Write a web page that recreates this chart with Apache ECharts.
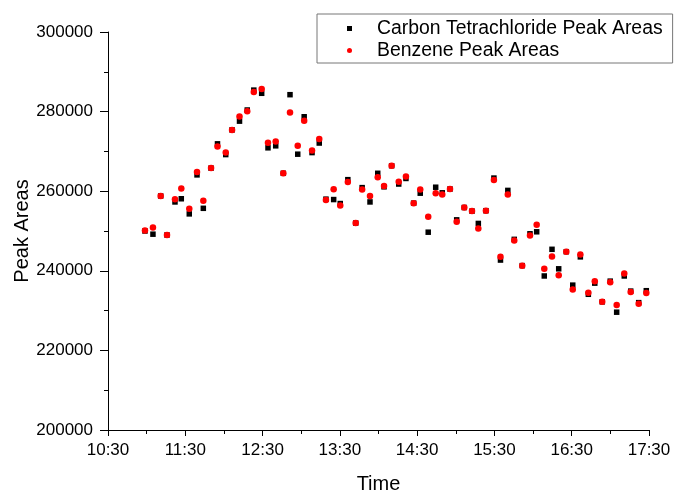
<!DOCTYPE html>
<html>
<head>
<meta charset="utf-8">
<script src="https://cdn.jsdelivr.net/npm/echarts@6/dist/echarts.min.js"></script>
<style>
html,body{margin:0;padding:0;background:#fff;}
#chart{width:674px;height:494px;}
</style>
</head>
<body>
<div id="chart"></div>
<script>
// Time of each sample, minutes after midnight
var timeMin = [658.7,664.9,670.9,675.8,682.0,686.9,693.1,699.1,704.0,710.0,
  715.0,721.4,726.3,732.1,738.1,743.2,749.3,754.2,760.2,766.1,
  771.3,777.3,782.3,788.4,794.0,799.2,805.2,810.3,816.2,822.3,
  827.3,833.4,839.4,844.3,850.2,855.7,861.3,867.3,872.4,878.6,
  884.4,889.5,895.5,900.7,906.6,912.6,917.5,923.4,929.6,934.7,
  940.4,945.4,951.6,957.6,962.8,968.7,974.7,979.9,985.8,990.8,
  996.7,1002.9,1007.9,1013.7,1019.9,1024.9,1030.8,1035.8,1042.0,1047.9];

var carbonTet = [250000,249200,258800,249000,257300,258100,254300,264100,255700,265800,
  271900,269200,275400,277600,280400,285400,284600,270900,271400,264500,
  284250,269300,278700,269700,272100,258000,257900,256900,262900,252000,
  260900,257300,264500,261100,266400,261800,263200,257000,259500,249700,
  261000,259600,260550,252800,255900,255000,251900,255100,263300,242700,
  260200,247900,241300,249300,249800,238700,245400,240500,244800,236400,
  243500,234100,236900,232200,237400,229600,238700,234900,232000,235000];

var benzene = [250100,250900,258800,249000,258000,260700,255600,264800,257600,265800,
  271200,269700,275400,278800,280100,284900,285700,272200,272500,264500,
  279800,271400,277700,270200,273100,257800,260500,256400,262300,252000,
  260400,258800,263500,261300,266400,262400,263700,257000,260400,253600,
  259500,259200,260550,252300,255900,255000,250600,255100,262800,243500,
  259200,247600,241300,248900,251600,240500,243600,238900,244800,235300,
  244100,234500,237400,232200,237100,231400,239300,234700,231700,234400];

var seriesNames = ['Carbon Tetrachloride Peak Areas', 'Benzene Peak Areas'];
var xAxisTitle = 'Time';
var yAxisTitle = 'Peak Areas';

function pairs(xs, ys) {
  return xs.map(function (x, i) { return [x, ys[i]]; });
}
function fmtTime(v) {
  var h = Math.floor(v / 60), m = Math.round(v - h * 60);
  return h + ':' + (m < 10 ? '0' : '') + m;
}

var chart = echarts.init(document.getElementById('chart'), null, {renderer: 'canvas'});
var font = 'Liberation Sans, Arial, sans-serif';
chart.setOption({
  backgroundColor: '#fff',
  animation: false,
  grid: {left: 108, right: 25, top: 32, bottom: 64, containLabel: false, outerBoundsMode: 'none'},
  legend: {
    orient: 'vertical',
    left: 317, top: 14,
    padding: [4, 10, 2, 30],
    borderColor: '#777', borderWidth: 1,
    backgroundColor: '#fff',
    itemWidth: 5, itemHeight: 5, itemGap: 1,
    textStyle: {fontFamily: font, fontSize: 19.4, color: '#000', lineHeight: 21, padding: [0, 0, 0, 20]},
    data: [
      {name: seriesNames[0], icon: 'rect'},
      {name: seriesNames[1], icon: 'circle'}
    ]
  },
  xAxis: {
    type: 'value', min: 630, max: 1050, interval: 60,
    name: xAxisTitle, nameLocation: 'middle', nameGap: 44, nameMoveOverlap: false,
    nameTextStyle: {fontFamily: font, fontSize: 20, color: '#000'},
    axisLine: {show: true, onZero: false, lineStyle: {color: '#000', width: 1}},
    axisTick: {show: true, inside: false, length: 6, lineStyle: {color: '#000'}},
    minorTick: {show: true, splitNumber: 2, length: 4, lineStyle: {color: '#000'}},
    splitLine: {show: false},
    axisLabel: {fontFamily: font, fontSize: 17, color: '#000', margin: 12, formatter: fmtTime}
  },
  yAxis: {
    type: 'value', min: 200000, max: 300000, interval: 20000,
    name: yAxisTitle, nameLocation: 'middle', nameGap: 76, nameRotate: 90, nameMoveOverlap: false,
    nameTextStyle: {fontFamily: font, fontSize: 20, color: '#000'},
    axisLine: {show: true, onZero: false, lineStyle: {color: '#000', width: 1}},
    axisTick: {show: true, inside: false, length: 8, lineStyle: {color: '#000'}},
    minorTick: {show: true, splitNumber: 2, length: 4, lineStyle: {color: '#000'}},
    splitLine: {show: false},
    axisLabel: {fontFamily: font, fontSize: 17, color: '#000', margin: 15,
      formatter: function (v) { return String(v); }}
  },
  series: [
    {
      name: seriesNames[0], type: 'scatter', symbol: 'rect', symbolSize: 5.5,
      itemStyle: {color: '#000', opacity: 1},
      data: pairs(timeMin, carbonTet), z: 2
    },
    {
      name: seriesNames[1], type: 'scatter', symbol: 'circle', symbolSize: 6.5,
      itemStyle: {color: '#ff0000', opacity: 1},
      data: pairs(timeMin, benzene), z: 3
    }
  ]
});
</script>
</body>
</html>
